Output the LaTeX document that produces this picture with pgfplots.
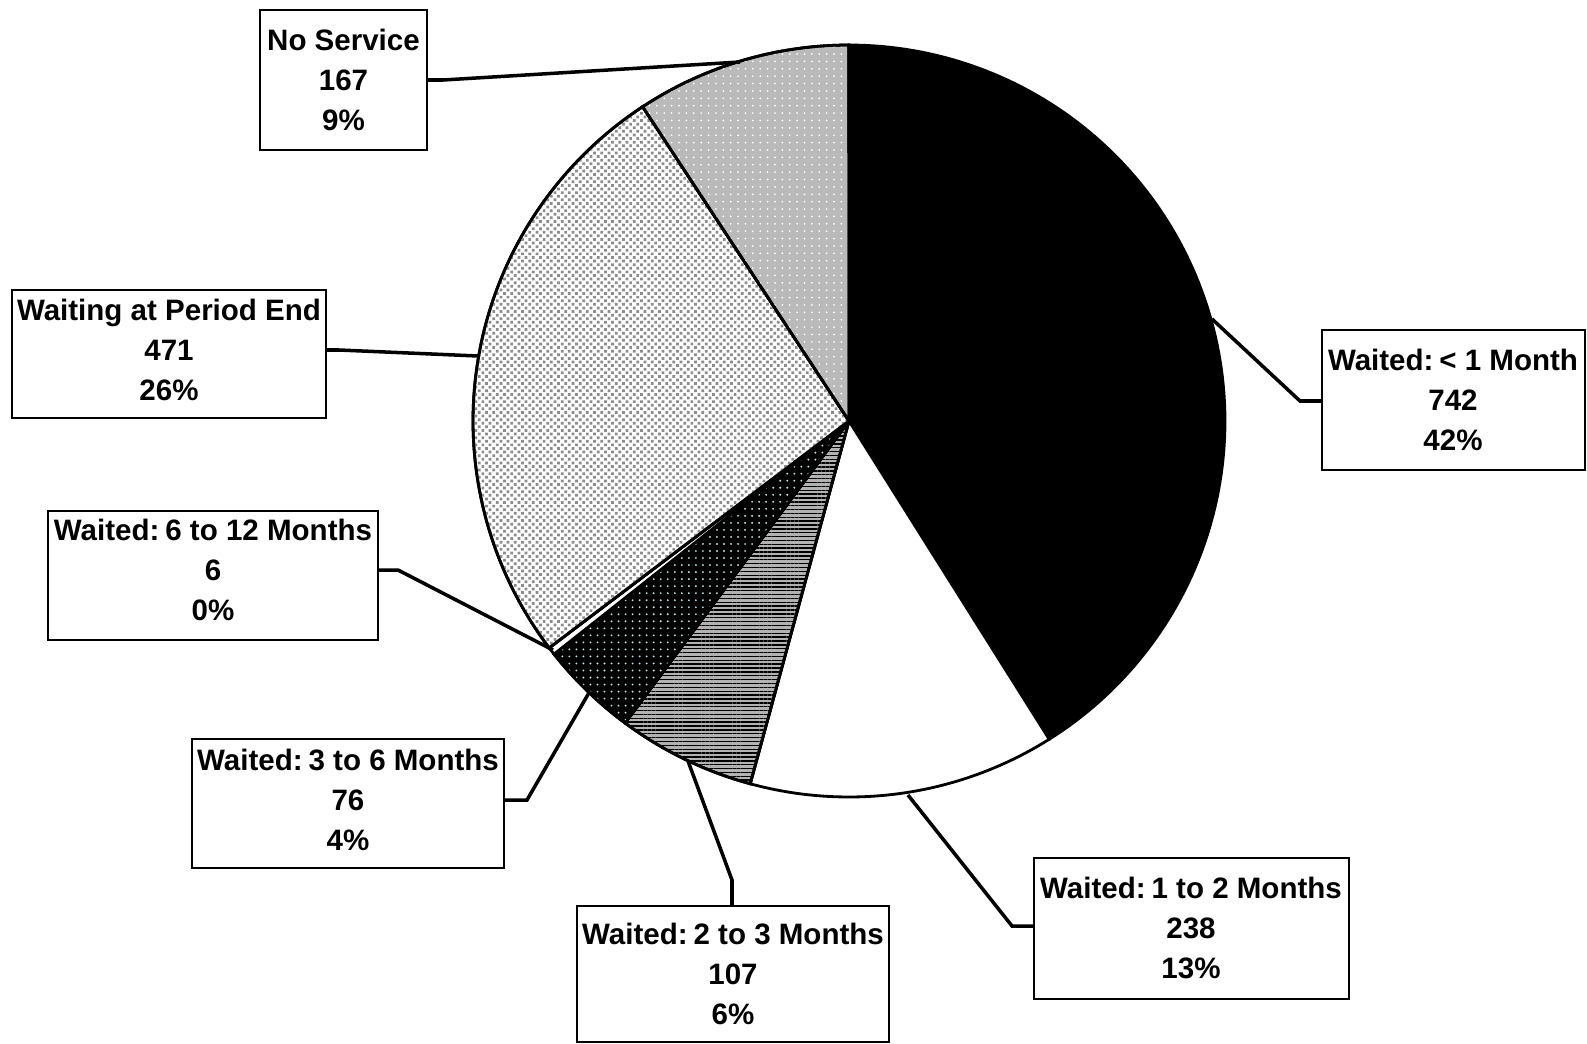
\documentclass[border=0pt]{standalone}
\usepackage{pgfplots}
\pgfplotsset{compat=1.18}
\usetikzlibrary{patterns.meta}
\usepackage{fontspec}
\setmainfont{Liberation Sans}
\definecolor{dotcyan}{RGB}{190,228,228}
\begin{document}
\begin{tikzpicture}
\def\cx{849}\def\cy{421}\def\R{376}
% values: <1 month, 1-2, 2-3, 3-6, 6-12, waiting, no service
\def\vA{742}\def\vB{238}\def\vC{107}\def\vD{76}\def\vE{6}\def\vF{471}\def\vG{167}
\pgfmathsetmacro\tot{\vA+\vB+\vC+\vD+\vE+\vF+\vG}
\pgfmathsetmacro\aA{90}
\pgfmathsetmacro\aB{\aA-360*(\vA/\tot)}
\pgfmathsetmacro\aC{\aB-360*(\vB/\tot)}
\pgfmathsetmacro\aD{\aC-360*(\vC/\tot)}
\pgfmathsetmacro\aE{\aD-360*(\vD/\tot)}
\pgfmathsetmacro\aF{\aE-360*(\vE/\tot)}
\pgfmathsetmacro\aG{\aF-360*(\vF/\tot)}
\pgfmathsetmacro\aH{\aG-360*(\vG/\tot)}
\begin{axis}[width=158.7mm,height=104.3mm,scale only axis,
  xmin=0,xmax=1587,ymin=0,ymax=1043,y dir=reverse,
  hide axis,clip=false]
\addplot[draw=none,forget plot] coordinates {(0,0) (1587,1043)};
% slices
\addplot[draw=black,line width=0.8pt,fill=black,domain=\aB:\aA,samples=120,variable=\t]
  ({\cx+\R*cos(\t)},{\cy-\R*sin(\t)}) -- (axis cs:\cx,\cy) -- cycle;
\addplot[draw=black,line width=0.8pt,fill=white,domain=\aC:\aB,samples=60,variable=\t]
  ({\cx+\R*cos(\t)},{\cy-\R*sin(\t)}) -- (axis cs:\cx,\cy) -- cycle;
\addplot[draw=black,line width=0.8pt,fill=black!30,postaction={pattern={Lines[angle=0,distance=1.1pt,line width=0.4pt]},pattern color=black},domain=\aD:\aC,samples=40,variable=\t]
  ({\cx+\R*cos(\t)},{\cy-\R*sin(\t)}) -- (axis cs:\cx,\cy) -- cycle;
\addplot[draw=black,line width=0.8pt,fill=black,postaction={pattern={Dots[distance=2pt,radius=0.3pt]},pattern color=dotcyan},domain=\aE:\aD,samples=30,variable=\t]
  ({\cx+\R*cos(\t)},{\cy-\R*sin(\t)}) -- (axis cs:\cx,\cy) -- cycle;
\addplot[draw=black,line width=0.8pt,fill=white,domain=\aF:\aE,samples=5,variable=\t]
  ({\cx+\R*cos(\t)},{\cy-\R*sin(\t)}) -- (axis cs:\cx,\cy) -- cycle;
\addplot[draw=black,line width=0.8pt,fill=white,postaction={pattern={Dots[distance=1.45pt,radius=0.55pt,angle=45]},pattern color=black!45},domain=\aG:\aF,samples=100,variable=\t]
  ({\cx+\R*cos(\t)},{\cy-\R*sin(\t)}) -- (axis cs:\cx,\cy) -- cycle;
\addplot[draw=black,line width=0.8pt,fill=black!27,postaction={pattern={Dots[distance=2.1pt,radius=0.28pt]},pattern color=white},domain=\aH:\aG,samples=50,variable=\t]
  ({\cx+\R*cos(\t)},{\cy-\R*sin(\t)}) -- (axis cs:\cx,\cy) -- cycle;
% leader lines
\begin{scope}[line width=1pt]
\draw (axis cs:427,80) -- (axis cs:443,80) -- (axis cs:740,62);
\draw (axis cs:326,350) -- (axis cs:339,350) -- (axis cs:478,356);
\draw (axis cs:378,570) -- (axis cs:398,570) -- (axis cs:553,650);
\draw (axis cs:504,800) -- (axis cs:527,800) -- (axis cs:590,691);
\draw (axis cs:732,906) -- (axis cs:732,880) -- (axis cs:688,761);
\draw (axis cs:1034,926) -- (axis cs:1012,926) -- (axis cs:908,795);
\draw (axis cs:1322,401) -- (axis cs:1300,401) -- (axis cs:1212,319);
\end{scope}
% boxes
\begin{scope}[line width=0.6pt]
\draw[fill=white] (axis cs:260,10) rectangle (axis cs:427,150);
\draw[fill=white] (axis cs:12,290) rectangle (axis cs:326,418);
\draw[fill=white] (axis cs:48,511) rectangle (axis cs:378,640);
\draw[fill=white] (axis cs:192,739) rectangle (axis cs:504,868);
\draw[fill=white] (axis cs:577,906) rectangle (axis cs:889,1042);
\draw[fill=white] (axis cs:1034,858) rectangle (axis cs:1349,999);
\draw[fill=white] (axis cs:1322,330) rectangle (axis cs:1585,470);
\end{scope}
\begin{scope}[every node/.style={align=center,inner sep=0pt,font=\bfseries\fontsize{8.4}{11.4}\selectfont}]
\node at (axis cs:343.5,80) {No Service\\167\\9\%};
\node at (axis cs:169,350) {Waiting at Period End\\471\\26\%};
\node at (axis cs:213,570) {Waited:\hspace{0.2em}6 to 12 Months\\6\\0\%};
\node at (axis cs:348,800) {Waited:\hspace{0.2em}3 to 6 Months\\76\\4\%};
\node at (axis cs:733,974) {Waited:\hspace{0.2em}2 to 3 Months\\107\\6\%};
\node at (axis cs:1191,928) {Waited:\hspace{0.2em}1 to 2 Months\\238\\13\%};
\node at (axis cs:1453,400) {Waited:\hspace{0.2em}< 1 Month\\742\\42\%};
\end{scope}
\end{axis}
\end{tikzpicture}
\end{document}
